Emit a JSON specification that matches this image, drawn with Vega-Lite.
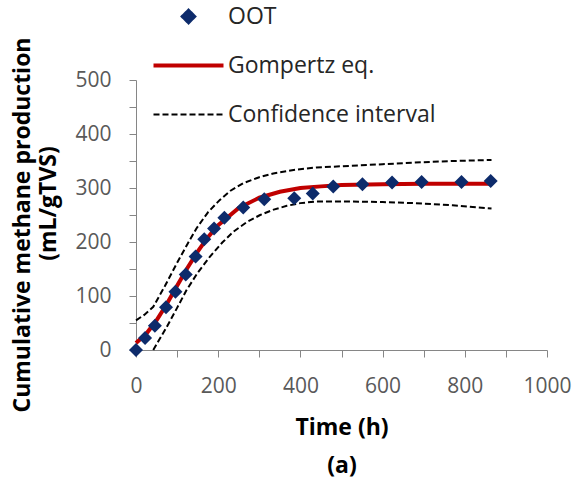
{
  "$schema": "https://vega.github.io/schema/vega-lite/v6.json",
  "autosize": {"type": "none"},
  "width": 411,
  "height": 270,
  "padding": {"left": 136, "top": 80, "right": 32, "bottom": 134},
  "background": "white",
  "title": {"text": "Cumulative methane production", "orient": "left", "anchor": "middle", "font": "Open Sans", "fontSize": 23, "fontWeight": "bold", "color": "#000000", "offset": 2, "dx": -10},
  "config": {
    "view": {"stroke": null},
    "font": "Open Sans",
    "axis": {"grid": false, "labelFlush": false, "domainColor": "#868686", "tickColor": "#868686", "labelColor": "#595959", "labelFont": "Open Sans", "labelFontSize": 21, "titleFont": "Open Sans", "titleFontSize": 23, "titleFontWeight": "bold", "titleColor": "#000000", "tickSize": 7, "domainWidth": 1, "tickWidth": 1}
  },
  "datasets": {
    "obs": [
      {"t": 0, "y": 0, "series": "OOT"},
      {"t": 22, "y": 22, "series": "OOT"},
      {"t": 46, "y": 45, "series": "OOT"},
      {"t": 73, "y": 79, "series": "OOT"},
      {"t": 96, "y": 108, "series": "OOT"},
      {"t": 121, "y": 140, "series": "OOT"},
      {"t": 145, "y": 173, "series": "OOT"},
      {"t": 166, "y": 205, "series": "OOT"},
      {"t": 190, "y": 225, "series": "OOT"},
      {"t": 215, "y": 245, "series": "OOT"},
      {"t": 261, "y": 264, "series": "OOT"},
      {"t": 312, "y": 279, "series": "OOT"},
      {"t": 385, "y": 281, "series": "OOT"},
      {"t": 430, "y": 290, "series": "OOT"},
      {"t": 480, "y": 303, "series": "OOT"},
      {"t": 551, "y": 307, "series": "OOT"},
      {"t": 623, "y": 310, "series": "OOT"},
      {"t": 695, "y": 311, "series": "OOT"},
      {"t": 792, "y": 311, "series": "OOT"},
      {"t": 863, "y": 313, "series": "OOT"}
    ],
    "fit": [
      {"t": 0, "y": 13, "series": "Gompertz eq."},
      {"t": 25, "y": 30, "series": "Gompertz eq."},
      {"t": 50, "y": 55, "series": "Gompertz eq."},
      {"t": 75, "y": 85, "series": "Gompertz eq."},
      {"t": 100, "y": 119, "series": "Gompertz eq."},
      {"t": 125, "y": 152, "series": "Gompertz eq."},
      {"t": 150, "y": 182, "series": "Gompertz eq."},
      {"t": 175, "y": 209, "series": "Gompertz eq."},
      {"t": 200, "y": 231, "series": "Gompertz eq."},
      {"t": 250, "y": 263, "series": "Gompertz eq."},
      {"t": 300, "y": 282, "series": "Gompertz eq."},
      {"t": 350, "y": 293, "series": "Gompertz eq."},
      {"t": 400, "y": 300, "series": "Gompertz eq."},
      {"t": 450, "y": 303, "series": "Gompertz eq."},
      {"t": 500, "y": 305.5, "series": "Gompertz eq."},
      {"t": 600, "y": 307, "series": "Gompertz eq."},
      {"t": 700, "y": 308, "series": "Gompertz eq."},
      {"t": 863, "y": 308, "series": "Gompertz eq."}
    ],
    "ci": [
      {"t": 0, "y": 55, "series": "Confidence interval", "bound": "upper"},
      {"t": 20, "y": 65, "series": "Confidence interval", "bound": "upper"},
      {"t": 42, "y": 80, "series": "Confidence interval", "bound": "upper"},
      {"t": 70, "y": 118, "series": "Confidence interval", "bound": "upper"},
      {"t": 99, "y": 160, "series": "Confidence interval", "bound": "upper"},
      {"t": 125, "y": 196, "series": "Confidence interval", "bound": "upper"},
      {"t": 147, "y": 225, "series": "Confidence interval", "bound": "upper"},
      {"t": 175, "y": 255, "series": "Confidence interval", "bound": "upper"},
      {"t": 204, "y": 278, "series": "Confidence interval", "bound": "upper"},
      {"t": 230, "y": 295, "series": "Confidence interval", "bound": "upper"},
      {"t": 261, "y": 309, "series": "Confidence interval", "bound": "upper"},
      {"t": 300, "y": 320, "series": "Confidence interval", "bound": "upper"},
      {"t": 334, "y": 327, "series": "Confidence interval", "bound": "upper"},
      {"t": 390, "y": 334, "series": "Confidence interval", "bound": "upper"},
      {"t": 439, "y": 338, "series": "Confidence interval", "bound": "upper"},
      {"t": 520, "y": 341, "series": "Confidence interval", "bound": "upper"},
      {"t": 600, "y": 344, "series": "Confidence interval", "bound": "upper"},
      {"t": 674, "y": 347, "series": "Confidence interval", "bound": "upper"},
      {"t": 770, "y": 350, "series": "Confidence interval", "bound": "upper"},
      {"t": 865, "y": 352, "series": "Confidence interval", "bound": "upper"},
      {"t": 42, "y": 0, "series": "Confidence interval", "bound": "lower"},
      {"t": 55, "y": 17, "series": "Confidence interval", "bound": "lower"},
      {"t": 75, "y": 43, "series": "Confidence interval", "bound": "lower"},
      {"t": 100, "y": 78, "series": "Confidence interval", "bound": "lower"},
      {"t": 123, "y": 111, "series": "Confidence interval", "bound": "lower"},
      {"t": 150, "y": 143, "series": "Confidence interval", "bound": "lower"},
      {"t": 180, "y": 173, "series": "Confidence interval", "bound": "lower"},
      {"t": 210, "y": 199, "series": "Confidence interval", "bound": "lower"},
      {"t": 237, "y": 219, "series": "Confidence interval", "bound": "lower"},
      {"t": 270, "y": 237, "series": "Confidence interval", "bound": "lower"},
      {"t": 302, "y": 250, "series": "Confidence interval", "bound": "lower"},
      {"t": 335, "y": 260, "series": "Confidence interval", "bound": "lower"},
      {"t": 367, "y": 267, "series": "Confidence interval", "bound": "lower"},
      {"t": 400, "y": 272, "series": "Confidence interval", "bound": "lower"},
      {"t": 439, "y": 275, "series": "Confidence interval", "bound": "lower"},
      {"t": 520, "y": 275, "series": "Confidence interval", "bound": "lower"},
      {"t": 600, "y": 274, "series": "Confidence interval", "bound": "lower"},
      {"t": 674, "y": 272, "series": "Confidence interval", "bound": "lower"},
      {"t": 770, "y": 268, "series": "Confidence interval", "bound": "lower"},
      {"t": 865, "y": 262, "series": "Confidence interval", "bound": "lower"}
    ]
  },
  "encoding": {
    "x": {"field": "t", "type": "quantitative", "scale": {"domain": [0, 1000], "nice": false},
      "axis": {"title": ["Time (h)", "(a)"], "titleLineHeight": 38, "titlePadding": 20, "values": [0,100,200,300,400,500,600,700,800,900,1000], "labelExpr": "datum.value % 200 === 0 ? datum.label : ''", "labelPadding": 18, "format": "d"}},
    "y": {"field": "y", "type": "quantitative", "scale": {"domain": [0, 500], "nice": false},
      "axis": {"title": "(mL/gTVS)", "titleBaseline": "middle", "titleX": -88, "titleY": 123, "values": [0,50,100,150,200,250,300,350,400,450,500], "labelExpr": "datum.value % 100 === 0 ? datum.label : ''", "labelPadding": 18, "format": "d"}},
    "color": {"field": "series", "type": "nominal",
      "scale": {"domain": ["OOT", "Gompertz eq.", "Confidence interval"], "range": ["#0D2B6B", "#C00000", "#000000"]},
      "legend": {"title": null, "orient": "none", "legendX": 76, "legendY": -75, "padding": 0, "rowPadding": 25, "labelOffset": -7, "labelFont": "Open Sans", "labelFontSize": 23, "labelColor": "#262626", "symbolSize": 196, "labelLimit": 400,
        "encode": {"symbols": {"update": {
          "shape": {"signal": "datum.value === 'OOT' ? 'M-5,-1L-4,0L-5,1L-6,0Z' : 'M-10,0H0'"},
          "size": {"value": 196},
          "fill": {"signal": "datum.value === 'OOT' ? '#0D2B6B' : 'transparent'"},
          "stroke": {"signal": "datum.value === 'OOT' ? 'transparent' : (datum.value === 'Gompertz eq.' ? '#C00000' : '#000000')"},
          "strokeWidth": {"signal": "datum.value === 'Gompertz eq.' ? 4 : 2"},
          "strokeDash": {"signal": "datum.value === 'Confidence interval' ? [6,3] : [1,0]"},
          "opacity": {"value": 1}
        }}}}
    }
  },
  "layer": [
    {"data": {"name": "ci"}, "mark": {"type": "line", "strokeWidth": 2, "strokeDash": [6, 3]}, "encoding": {"detail": {"field": "bound"}}},
    {"data": {"name": "fit"}, "mark": {"type": "line", "strokeWidth": 4}},
    {"data": {"name": "obs"}, "mark": {"type": "point", "shape": "diamond", "filled": true, "size": 196, "opacity": 1}}
  ]
}
